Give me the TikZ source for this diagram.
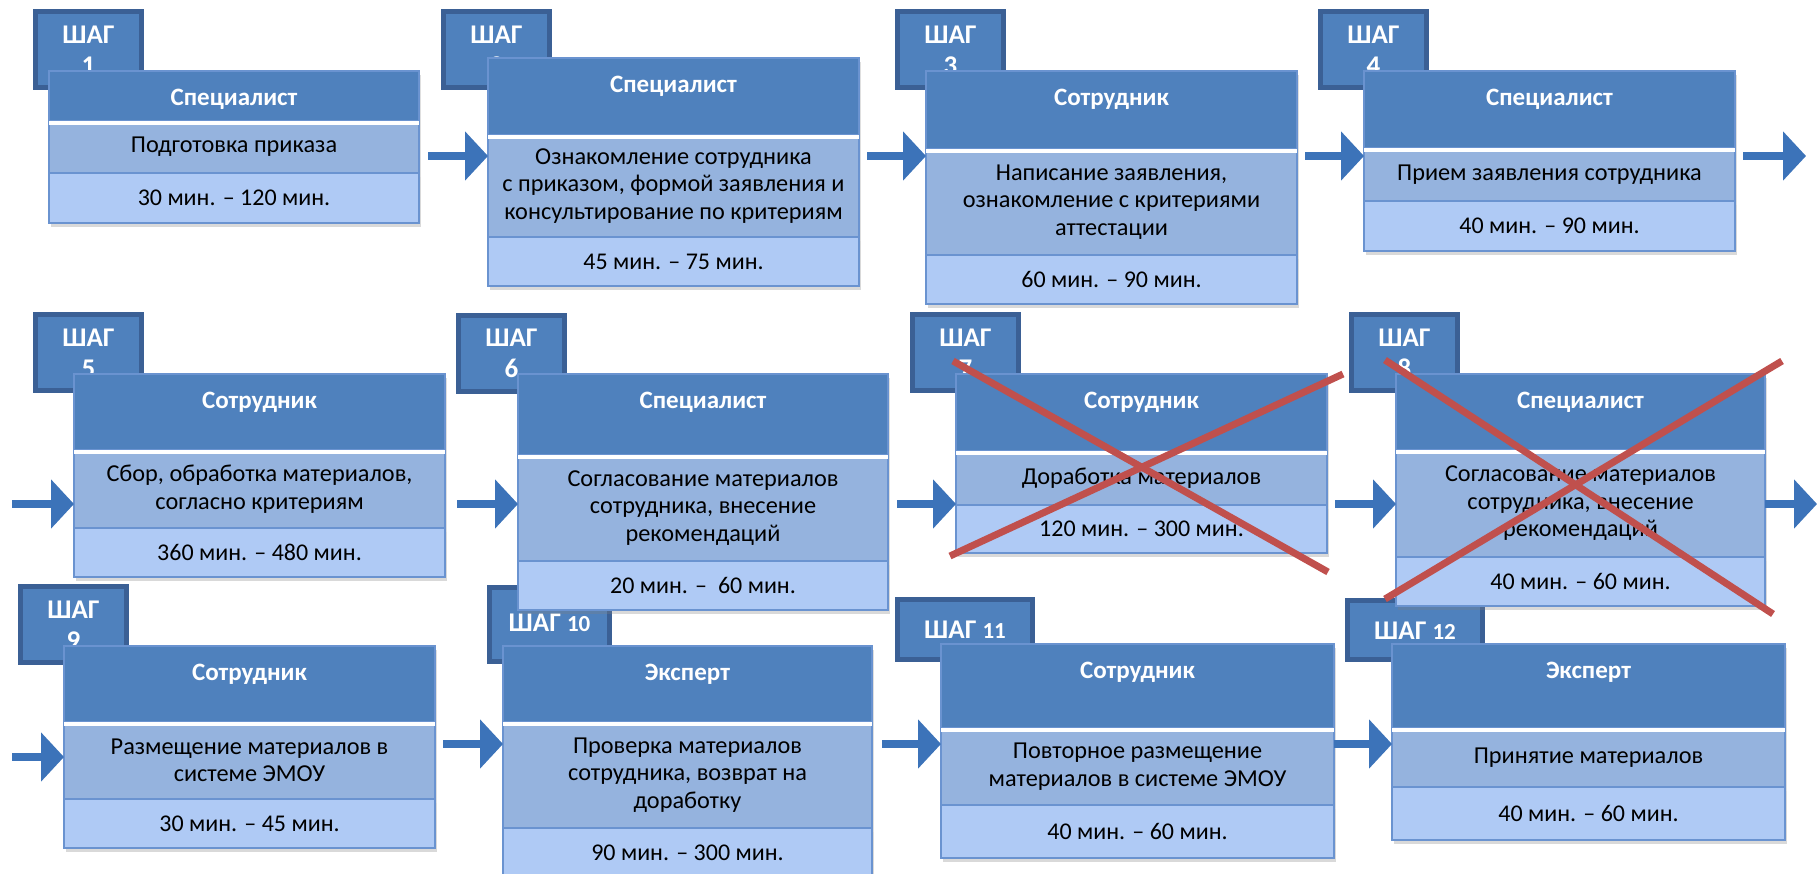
\documentclass[tikz,border=0pt]{standalone}
\usepackage{fontspec}
\setmainfont{Carlito}
\usetikzlibrary{positioning,arrows.meta,shadows}

\definecolor{stepblue}{HTML}{4F81BD}
\definecolor{shagedge}{HTML}{3B6095}
\definecolor{boxedge}{HTML}{6A93D0}
\definecolor{taskfill}{HTML}{95B3DE}
\definecolor{timefill}{HTML}{AFCAF5}
\definecolor{flowblue}{HTML}{3C73B9}
\definecolor{crossred}{HTML}{C0504D}

\tikzset{
  shag/.style={draw=shagedge, line width=5pt, fill=stepblue, text=white,
    font=\bfseries\fontsize{27}{31}\selectfont, align=center, anchor=north west,
    inner sep=0pt, outer sep=0pt, text height=62.5pt, text depth=13.5pt},
  rolebox/.style={draw=boxedge, line width=1.5pt, fill=stepblue, text=white,
    font=\bfseries\fontsize{25}{29}\selectfont, inner ysep=0pt, outer sep=0pt,
    text height=34pt, anchor=north west,
    drop shadow={shadow xshift=2pt, shadow yshift=-4pt, opacity=.25}},
  taskbox/.style={draw=boxedge, line width=1.5pt, fill=taskfill,
    font=\fontsize{24.3}{27.5}\selectfont, align=center, inner sep=0pt, outer sep=0pt,
    drop shadow={shadow xshift=2pt, shadow yshift=-4pt, opacity=.25}},
  timebox/.style={draw=boxedge, line width=1.5pt, fill=timefill,
    font=\fontsize{24}{28}\selectfont, inner sep=0pt, outer sep=0pt,
    drop shadow={shadow xshift=2pt, shadow yshift=-4pt, opacity=.3}},
  sepline/.style={white, line width=4pt},
  flow/.style={draw=flowblue, line width=8pt, -{Triangle[length=23pt,width=48pt]}},
  cross/.style={draw=crossred, line width=7pt},
}

\begin{document}
\begin{tikzpicture}[x=1pt, y=-1pt, node distance=0pt]
  \useasboundingbox (0,0) rectangle (1817,873);

  % step badges
  \node[shag, minimum width=106] (s1) at (35.5,11.5) {ШАГ\\1};
  \node[shag, minimum width=106] (s2) at (443.5,11.5) {ШАГ\\2};
  \node[shag, minimum width=106] (s3) at (897.5,11.5) {ШАГ\\3};
  \node[shag, minimum width=106] (s4) at (1320.5,11.5) {ШАГ\\4};
  \node[shag, minimum width=106] (s5) at (35.5,314.5) {ШАГ\\5};
  \node[shag, minimum width=106] (s6) at (458.5,315) {ШАГ\\6};
  \node[shag, minimum width=106] (s7) at (912.5,314.5) {ШАГ\\7};
  \node[shag, minimum width=106] (s8) at (1351.5,314.5) {ШАГ\\8};
  \node[shag, minimum width=106] (s9) at (20.5,586.5) {ШАГ\\9};
  \node[shag, minimum width=120, text height=44pt, text depth=30pt] (s10) at (489.5,587.5) {ШАГ {\fontsize{23}{26}\selectfont 10}};
  \node[shag, minimum width=135, text height=38.5pt, text depth=21.5pt] (s11) at (897.5,599.5) {ШАГ {\fontsize{23}{26}\selectfont 11}};
  \node[shag, minimum width=135, text height=38.5pt, text depth=20.5pt] (s12) at (1347.5,600.5) {ШАГ {\fontsize{23}{26}\selectfont 12}};

  % row 1
  \node[rolebox, minimum width=370, text depth=16pt] (h1) at (49,71) {Специалист};
  \node[taskbox, minimum width=370, minimum height=52, below=of h1] (t1) {Подготовка приказа};
  \node[timebox, minimum width=370, minimum height=50, below=of t1] (m1) {30 мин. – 120 мин.};
  \draw[sepline] ([yshift=-2pt]t1.north west) -- ([yshift=-2pt]t1.north east);

  \node[rolebox, minimum width=371, text depth=43pt] (h2) at (488,58) {Специалист};
  \node[taskbox, minimum width=371, minimum height=102, below=of h2] (t2) {Ознакомление сотрудника\\с приказом, формой заявления и\\консультирование по критериям};
  \node[timebox, minimum width=371, minimum height=49, below=of t2] (m2) {45 мин. – 75 мин.};
  \draw[sepline] ([yshift=-2pt]t2.north west) -- ([yshift=-2pt]t2.north east);

  \node[rolebox, minimum width=371, text depth=44pt] (h3) at (926,71) {Сотрудник};
  \node[taskbox, minimum width=371, minimum height=106, below=of h3] (t3) {Написание заявления,\\ознакомление с критериями\\аттестации};
  \node[timebox, minimum width=371, minimum height=49, below=of t3] (m3) {60 мин. – 90 мин.};
  \draw[sepline] ([yshift=-2pt]t3.north west) -- ([yshift=-2pt]t3.north east);

  \node[rolebox, minimum width=371, text depth=43pt] (h4) at (1364,71) {Специалист};
  \node[taskbox, minimum width=371, minimum height=53, below=of h4] (t4) {Прием заявления сотрудника};
  \node[timebox, minimum width=371, minimum height=50, below=of t4] (m4) {40 мин. – 90 мин.};
  \draw[sepline] ([yshift=-2pt]t4.north west) -- ([yshift=-2pt]t4.north east);

  % row 2
  \node[rolebox, minimum width=371, text depth=42pt] (h5) at (74,374) {Сотрудник};
  \node[taskbox, minimum width=371, minimum height=78, below=of h5] (t5) {Сбор, обработка материалов,\\согласно критериям};
  \node[timebox, minimum width=371, minimum height=49, below=of t5] (m5) {360 мин. – 480 мин.};
  \draw[sepline] ([yshift=-2pt]t5.north west) -- ([yshift=-2pt]t5.north east);

  \node[rolebox, minimum width=370, text depth=47pt] (h6) at (518,374) {Специалист};
  \node[taskbox, minimum width=370, minimum height=106, below=of h6] (t6) {Согласование материалов\\сотрудника, внесение\\рекомендаций};
  \node[timebox, minimum width=370, minimum height=49, below=of t6] (m6) {20 мин. –~ 60 мин.};
  \draw[sepline] ([yshift=-2pt]t6.north west) -- ([yshift=-2pt]t6.north east);

  \node[rolebox, minimum width=371, text depth=43pt] (h7) at (956,374) {Сотрудник};
  \node[taskbox, minimum width=371, minimum height=54, below=of h7] (t7) {Доработка материалов};
  \node[timebox, minimum width=371, minimum height=48, below=of t7] (m7) {120 мин. – 300 мин.};
  \draw[sepline] ([yshift=-2pt]t7.north west) -- ([yshift=-2pt]t7.north east);

  \node[rolebox, minimum width=369, text depth=42pt] (h8) at (1396,374) {Специалист};
  \node[taskbox, minimum width=369, minimum height=107, below=of h8] (t8) {Согласование материалов\\сотрудника, внесение\\рекомендаций};
  \node[timebox, minimum width=369, minimum height=49, below=of t8] (m8) {40 мин. – 60 мин.};
  \draw[sepline] ([yshift=-2pt]t8.north west) -- ([yshift=-2pt]t8.north east);

  % row 3
  \node[rolebox, minimum width=371, text depth=42pt] (h9) at (64,646) {Сотрудник};
  \node[taskbox, minimum width=371, minimum height=77, below=of h9] (t9) {Размещение материалов в\\системе ЭМОУ};
  \node[timebox, minimum width=371, minimum height=49, below=of t9] (m9) {30 мин. – 45 мин.};
  \draw[sepline] ([yshift=-2pt]t9.north west) -- ([yshift=-2pt]t9.north east);

  \node[rolebox, minimum width=369, text depth=42pt] (h10) at (503,646) {Эксперт};
  \node[taskbox, minimum width=369, minimum height=106, below=of h10] (t10) {Проверка материалов\\сотрудника, возврат на\\доработку};
  \node[timebox, minimum width=369, minimum height=49, below=of t10] (m10) {90 мин. – 300 мин.};
  \draw[sepline] ([yshift=-2pt]t10.north west) -- ([yshift=-2pt]t10.north east);

  \node[rolebox, minimum width=393, text depth=50pt] (h11) at (941,644) {Сотрудник};
  \node[taskbox, minimum width=393, minimum height=77, below=of h11] (t11) {Повторное размещение\\материалов в системе ЭМОУ};
  \node[timebox, minimum width=393, minimum height=53, below=of t11] (m11) {40 мин. – 60 мин.};
  \draw[sepline] ([yshift=-2pt]t11.north west) -- ([yshift=-2pt]t11.north east);

  \node[rolebox, minimum width=393, text depth=50pt] (h12) at (1392,644) {Эксперт};
  \node[taskbox, minimum width=393, minimum height=59, below=of h12] (t12) {Принятие материалов};
  \node[timebox, minimum width=393, minimum height=53, below=of t12] (m12) {40 мин. – 60 мин.};
  \draw[sepline] ([yshift=-2pt]t12.north west) -- ([yshift=-2pt]t12.north east);

  % arrows
  \coordinate (row1) at (0,156);
  \coordinate (row2) at (0,504);
  \coordinate (row3) at (0,744);
  \coordinate (out4) at (1806,156);
  \coordinate (in5) at (12,504);
  \coordinate (out8) at (1817,504);
  \coordinate (in9) at (12,757);
  \draw[flow, shorten <=9pt] (h1.east |- row1) -- (h2.west |- row1);
  \draw[flow, shorten <=8pt] (h2.east |- row1) -- (h3.west |- row1);
  \draw[flow, shorten <=8pt] (h3.east |- row1) -- (h4.west |- row1);
  \draw[flow, shorten <=8pt] (h4.east |- row1) -- (out4);
  \draw[flow] (in5) -- (h5.west |- row2);
  \draw[flow, shorten <=12pt] (h5.east |- row2) -- (h6.west |- row2);
  \draw[flow, shorten <=9pt] (h6.east |- row2) -- (h7.west |- row2);
  \draw[flow, shorten <=8pt] (h7.east |- row2) -- (h8.west |- row2);
  \draw[flow] (h8.east |- row2) -- (out8);
  \draw[flow] (in9) -- (h9.west |- in9);
  \draw[flow, shorten <=8pt] (h9.east |- row3) -- (h10.west |- row3);
  \draw[flow, shorten <=10pt] (h10.east |- row3) -- (h11.west |- row3);
  \draw[flow] (h11.east |- row3) -- (h12.west |- row3);

  % struck out steps
  \draw[cross] (953,361) -- (1328,572);
  \draw[cross] (950,556) -- (1343,374);
  \draw[cross] (1385,360) -- (1773,614);
  \draw[cross] (1385,599) -- (1782,361);
\end{tikzpicture}
\end{document}
